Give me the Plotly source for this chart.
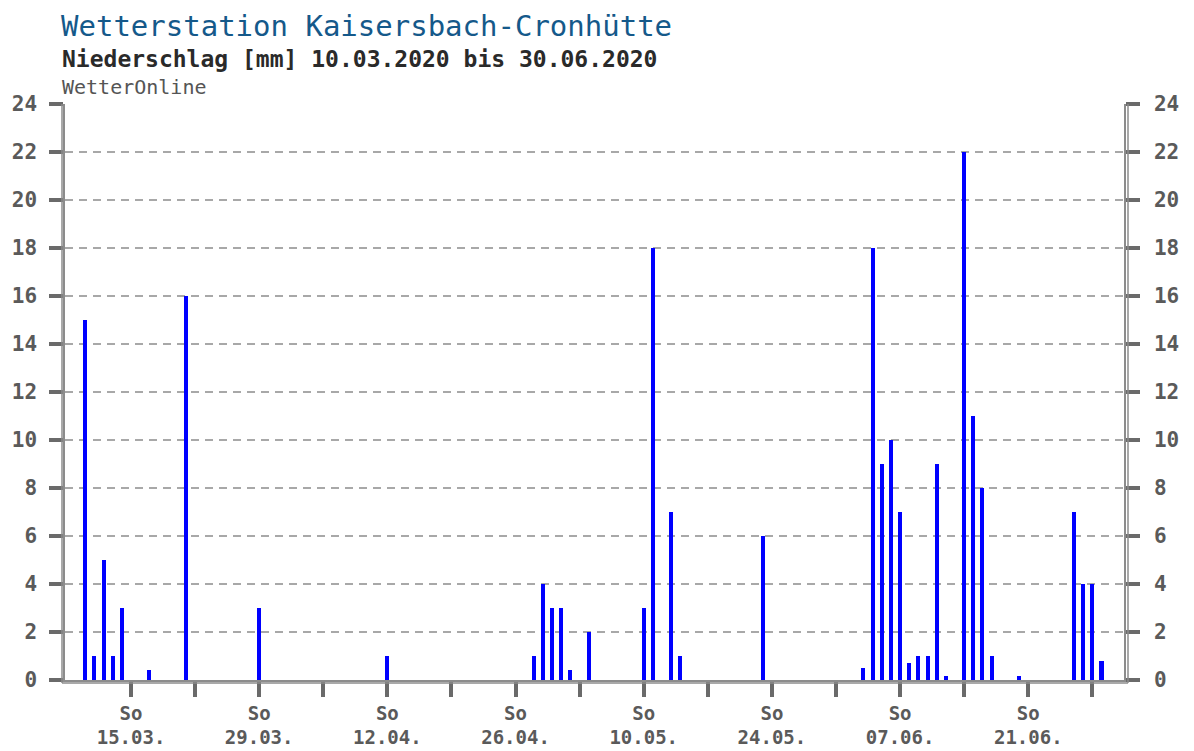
import plotly.graph_objects as go

# ---- data ----
dates = ["2020-03-10", "2020-03-11", "2020-03-12", "2020-03-13", "2020-03-14",
         "2020-03-17", "2020-03-21", "2020-03-29", "2020-04-12",
         "2020-04-28", "2020-04-29", "2020-04-30", "2020-05-01", "2020-05-02", "2020-05-04",
         "2020-05-10", "2020-05-11", "2020-05-13", "2020-05-14", "2020-05-23",
         "2020-06-03", "2020-06-04", "2020-06-05", "2020-06-06", "2020-06-07",
         "2020-06-08", "2020-06-09", "2020-06-10", "2020-06-11", "2020-06-12",
         "2020-06-14", "2020-06-15", "2020-06-16", "2020-06-17", "2020-06-20",
         "2020-06-26", "2020-06-27", "2020-06-28", "2020-06-29"]
precip_mm = [15, 1, 5, 1, 3,
             0.4, 16, 3, 1,
             1, 4, 3, 3, 0.4, 2,
             3, 18, 7, 1, 6,
             0.5, 18, 9, 10, 7,
             0.7, 1, 1, 9, 0.15,
             22, 11, 8, 1, 0.15,
             7, 4, 4, 0.8]

tick_dates = ["2020-03-15", "2020-03-22", "2020-03-29", "2020-04-05", "2020-04-12",
              "2020-04-19", "2020-04-26", "2020-05-03", "2020-05-10", "2020-05-17",
              "2020-05-24", "2020-05-31", "2020-06-07", "2020-06-14", "2020-06-21",
              "2020-06-28"]
tick_labels = ["So<br>15.03.", "", "So<br>29.03.", "", "So<br>12.04.", "",
               "So<br>26.04.", "", "So<br>10.05.", "", "So<br>24.05.", "",
               "So<br>07.06.", "", "So<br>21.06.", ""]
y_ticks = [0, 2, 4, 6, 8, 10, 12, 14, 16, 18, 20, 22, 24]

title = "Wetterstation Kaisersbach-Cronhütte"
subtitle = "Niederschlag [mm] 10.03.2020 bis 30.06.2020"
source = "WetterOnline"

# ---- layout geometry (page has an 8px body margin) ----
OFF = 8
W, H = 1194 - OFF, 751 - OFF
L, R, T, B = 65 - OFF, 70, 104 - OFF, 71
PW, PH = W - L - R, H - T - B


def fx(px):
    return (px - OFF - L) / PW


def fy(py):
    return (H - B - (py - OFF)) / PH


FONT = "DejaVu Sans Mono"
AX_COLOR = "#8c8c8c"
TICK_COLOR = "#6a6a6a"
LABEL_COLOR = "#5a5a5a"
BAR_MS = 0.44 * 86400000

fig = go.Figure()
fig.add_trace(go.Bar(x=dates, y=precip_mm, width=BAR_MS,
                     marker=dict(color="#0000ff", line=dict(width=0)),
                     showlegend=False, hovertemplate="%{x|%d.%m.}: %{y} mm<extra></extra>"))
fig.add_trace(go.Scatter(x=dates, y=precip_mm, yaxis="y2", mode="markers",
                         marker=dict(opacity=0), hoverinfo="skip", showlegend=False))

tickfont = dict(family=FONT, size=21, color=LABEL_COLOR, weight="bold")
xtickfont = dict(family=FONT, size=19, color=LABEL_COLOR, weight="bold")

fig.update_layout(
    width=W, height=H,
    margin=dict(l=L, r=R, t=T, b=B, pad=0, autoexpand=False),
    paper_bgcolor="white", plot_bgcolor="white",
    bargap=0,
    xaxis=dict(type="date", range=["2020-03-07 19:00", "2020-07-01 11:00"],
               tickmode="array", tickvals=tick_dates, ticktext=tick_labels,
               ticks="outside", ticklen=15, tickwidth=4, tickcolor=TICK_COLOR,
               showgrid=False, zeroline=False, showline=True,
               linecolor=AX_COLOR, linewidth=1.5, tickfont=xtickfont,
               ticklabelstandoff=0),
    yaxis=dict(range=[0, 24], tickmode="array", tickvals=y_ticks,
               ticks="outside", ticklen=14, tickwidth=4, tickcolor=TICK_COLOR,
               showgrid=True, gridcolor="#a8a8a8", gridwidth=2, griddash="8px,6px",
               zeroline=False, showline=True, linecolor=AX_COLOR, linewidth=1.5,
               tickfont=tickfont, ticklabelstandoff=8),
    yaxis2=dict(range=[0, 24], overlaying="y", side="right", tickmode="array",
                tickvals=y_ticks, ticks="outside", ticklen=14, tickwidth=4,
                tickcolor=TICK_COLOR, showgrid=False, zeroline=False, showline=True,
                linecolor=AX_COLOR, linewidth=1.5, tickfont=tickfont,
                ticklabelstandoff=10),
)

# outer line of the double frame
line = dict(color=AX_COLOR, width=1.5)
fig.add_shape(type="line", xref="paper", yref="paper", x0=fx(62), x1=fx(62), y0=fy(683), y1=fy(104), line=line)
fig.add_shape(type="line", xref="paper", yref="paper", x0=fx(1128), x1=fx(1128), y0=fy(683), y1=fy(104), line=line)
fig.add_shape(type="line", xref="paper", yref="paper", x0=fx(62), x1=fx(1128), y0=fy(683), y1=fy(683), line=line)

fig.add_annotation(text=title, xref="paper", yref="paper", x=fx(60), y=fy(OFF),
                   xanchor="left", yanchor="top", showarrow=False, borderpad=0,
                   font=dict(family=FONT, size=29, color="#15598a"))
fig.add_annotation(text=subtitle, xref="paper", yref="paper", x=fx(60), y=fy(59),
                   xanchor="left", yanchor="middle", showarrow=False,
                   font=dict(family=FONT, size=23, color="#2a2a2a", weight="bold"))
fig.add_annotation(text=source, xref="paper", yref="paper", x=fx(60), y=fy(87),
                   xanchor="left", yanchor="middle", showarrow=False,
                   font=dict(family=FONT, size=20, color="#555555"))

fig.write_html("out.html")
